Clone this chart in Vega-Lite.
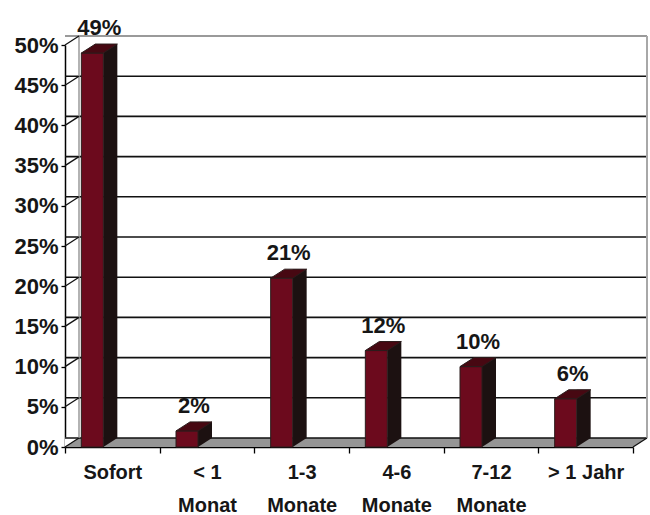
{
  "$schema": "https://vega.github.io/schema/vega-lite/v6.json",
  "width": 568,
  "height": 402,
  "autosize": {"type": "none"},
  "padding": {"left": 65, "top": 45, "right": 17, "bottom": 68},
  "background": "white",
  "datasets": {
    "shares": [
      {"cat": "Sofort", "pct": 0.49},
      {"cat": "< 1 Monat", "pct": 0.02},
      {"cat": "1-3 Monate", "pct": 0.21},
      {"cat": "4-6 Monate", "pct": 0.12},
      {"cat": "7-12 Monate", "pct": 0.10},
      {"cat": "> 1 Jahr", "pct": 0.06}
    ],
    "grid": [
      {"v": 0}, {"v": 0.05}, {"v": 0.1}, {"v": 0.15}, {"v": 0.2}, {"v": 0.25},
      {"v": 0.3}, {"v": 0.35}, {"v": 0.4}, {"v": 0.45}
    ],
    "ticks": [
      {"v": 0}, {"v": 0.05}, {"v": 0.1}, {"v": 0.15}, {"v": 0.2}, {"v": 0.25},
      {"v": 0.3}, {"v": 0.35}, {"v": 0.4}, {"v": 0.45}, {"v": 0.5}
    ],
    "base": [{"v": 0}],
    "top": [{"v": 0.5}]
  },
  "config": {
    "view": {"stroke": null},
    "axis": {
      "labelFont": "Liberation Sans",
      "labelFontWeight": "bold",
      "labelColor": "#161616",
      "domainColor": "#000000",
      "tickColor": "#000000",
      "zindex": 1
    }
  },
  "layer": [
    {
      "description": "floor slab",
      "data": {"name": "base"},
      "mark": {"type": "rule", "color": "#959595", "strokeWidth": 9, "yOffset": -4.5},
      "encoding": {
        "y": {
          "field": "v", "type": "quantitative",
          "scale": {"domain": [0, 0.5], "nice": false},
          "axis": {
            "title": null,
            "values": [0, 0.05, 0.1, 0.15, 0.2, 0.25, 0.3, 0.35, 0.4, 0.45, 0.5],
            "format": ".0%",
            "labelFontSize": 22,
            "labelPadding": 3,
            "tickSize": 4,
            "tickWidth": 1.3,
            "domainWidth": 1.5,
            "grid": false
          }
        }
      }
    },
    {
      "description": "left end of the floor stays white",
      "data": {"name": "base"},
      "mark": {"type": "point", "shape": "M0,0L0,-9.5L14,-9.5Z", "size": 4, "filled": true, "fill": "white", "strokeWidth": 0, "opacity": 1},
      "encoding": {
        "x": {"datum": "Sofort", "bandPosition": 0},
        "y": {"field": "v", "type": "quantitative"}
      }
    },
    {
      "description": "right end of the floor",
      "data": {"name": "base"},
      "mark": {"type": "point", "shape": "M0,0L14,-9L0,-9Z", "size": 4, "filled": true, "fill": "#959595", "strokeWidth": 0, "opacity": 1},
      "encoding": {
        "x": {"datum": "> 1 Jahr", "bandPosition": 1},
        "y": {"field": "v", "type": "quantitative"}
      }
    },
    {
      "description": "back wall grid",
      "data": {"name": "grid"},
      "mark": {"type": "rule", "color": "#111111", "strokeWidth": 1.6, "xOffset": 14, "x2Offset": 14, "yOffset": -9},
      "encoding": {
        "y": {"field": "v", "type": "quantitative"}
      }
    },
    {
      "description": "top edge of the back wall",
      "data": {"name": "top"},
      "mark": {"type": "rule", "color": "#9a9a9a", "strokeWidth": 2, "xOffset": 14, "x2Offset": 14, "yOffset": -9},
      "encoding": {
        "y": {"field": "v", "type": "quantitative"}
      }
    },
    {
      "description": "left edge of the back wall",
      "data": {"name": "base"},
      "mark": {"type": "rule", "color": "#9a9a9a", "strokeWidth": 1.5, "xOffset": 14, "yOffset": -9, "y2Offset": -9},
      "encoding": {
        "x": {"datum": "Sofort", "bandPosition": 0},
        "y": {"datum": 0, "type": "quantitative"},
        "y2": {"datum": 0.5}
      }
    },
    {
      "description": "right edge of the back wall",
      "data": {"name": "base"},
      "mark": {"type": "rule", "color": "#a8a8a8", "strokeWidth": 2, "xOffset": 14, "yOffset": -9, "y2Offset": -9},
      "encoding": {
        "x": {"datum": "> 1 Jahr", "bandPosition": 1},
        "y": {"datum": 0, "type": "quantitative"},
        "y2": {"datum": 0.5}
      }
    },
    {
      "description": "depth lines from the value axis to the wall",
      "data": {"name": "ticks"},
      "mark": {"type": "point", "shape": "M0,0L14,-9", "size": 4, "filled": false, "stroke": "#111111", "strokeWidth": 1.3, "opacity": 1},
      "encoding": {
        "x": {"datum": "Sofort", "bandPosition": 0},
        "y": {"field": "v", "type": "quantitative"}
      }
    },
    {
      "description": "slanted right edge of the floor",
      "data": {"name": "base"},
      "mark": {"type": "point", "shape": "M0,0L14,-9", "size": 4, "filled": false, "stroke": "#111111", "strokeWidth": 1.3, "opacity": 1},
      "encoding": {
        "x": {"datum": "> 1 Jahr", "bandPosition": 1},
        "y": {"field": "v", "type": "quantitative"}
      }
    },
    {
      "data": {"name": "shares"},
      "layer": [
        {
          "description": "bar side faces",
          "mark": {"type": "bar", "width": 14, "xOffset": -2, "yOffset": -9, "y2Offset": -9, "fill": "#1c1111"},
          "encoding": {
            "x": {
              "field": "cat", "type": "nominal", "sort": null,
              "scale": {"domain": ["Sofort", "< 1 Monat", "1-3 Monate", "4-6 Monate", "7-12 Monate", "> 1 Jahr"], "paddingInner": 0, "paddingOuter": 0},
              "axis": {
                "title": null,
                "labelAngle": 0,
                "labelAlign": "center",
                "labelFontSize": 20,
                "labelLineHeight": 33,
                "labelPadding": 19,
                "tickBand": "extent",
                "tickSize": 6,
                "tickWidth": 1.3,
                "domainWidth": 1.5,
                "labelExpr": "indexof(datum.label, 'Mon') > 0 ? [trim(slice(datum.label, 0, indexof(datum.label, 'Mon'))), slice(datum.label, indexof(datum.label, 'Mon'))] : datum.label"
              }
            },
            "y": {"field": "pct", "type": "quantitative"},
            "y2": {"datum": 0}
          }
        },
        {
          "description": "bottom corner of the side faces",
          "mark": {"type": "point", "shape": "M-9,0L-9,-9L5,-9Z", "size": 4, "filled": true, "fill": "#1c1111", "strokeWidth": 0, "opacity": 1},
          "encoding": {
            "x": {"field": "cat", "type": "nominal", "sort": null},
            "y": {"datum": 0, "type": "quantitative"}
          }
        },
        {
          "description": "bar front faces",
          "mark": {"type": "bar", "width": 22, "xOffset": -20, "fill": "#6c0a1d", "stroke": "#2b1c1c", "strokeWidth": 1},
          "encoding": {
            "x": {"field": "cat", "type": "nominal", "sort": null},
            "y": {"field": "pct", "type": "quantitative"},
            "y2": {"datum": 0}
          }
        },
        {
          "description": "bar top faces",
          "mark": {"type": "point", "shape": "M-31,0L-9,0L5,-9L-17,-9Z", "size": 4, "filled": true, "fill": "#470812", "stroke": "#2b1c1c", "strokeWidth": 1, "opacity": 1},
          "encoding": {
            "x": {"field": "cat", "type": "nominal", "sort": null},
            "y": {"field": "pct", "type": "quantitative"}
          }
        },
        {
          "description": "value labels",
          "mark": {"type": "text", "font": "Liberation Sans", "fontWeight": "bold", "fontSize": 22, "color": "#161616", "baseline": "alphabetic", "align": "center", "xOffset": -13, "yOffset": -18},
          "encoding": {
            "x": {"field": "cat", "type": "nominal", "sort": null},
            "y": {"field": "pct", "type": "quantitative"},
            "text": {"field": "pct", "type": "quantitative", "format": ".0%"}
          }
        }
      ]
    }
  ]
}
